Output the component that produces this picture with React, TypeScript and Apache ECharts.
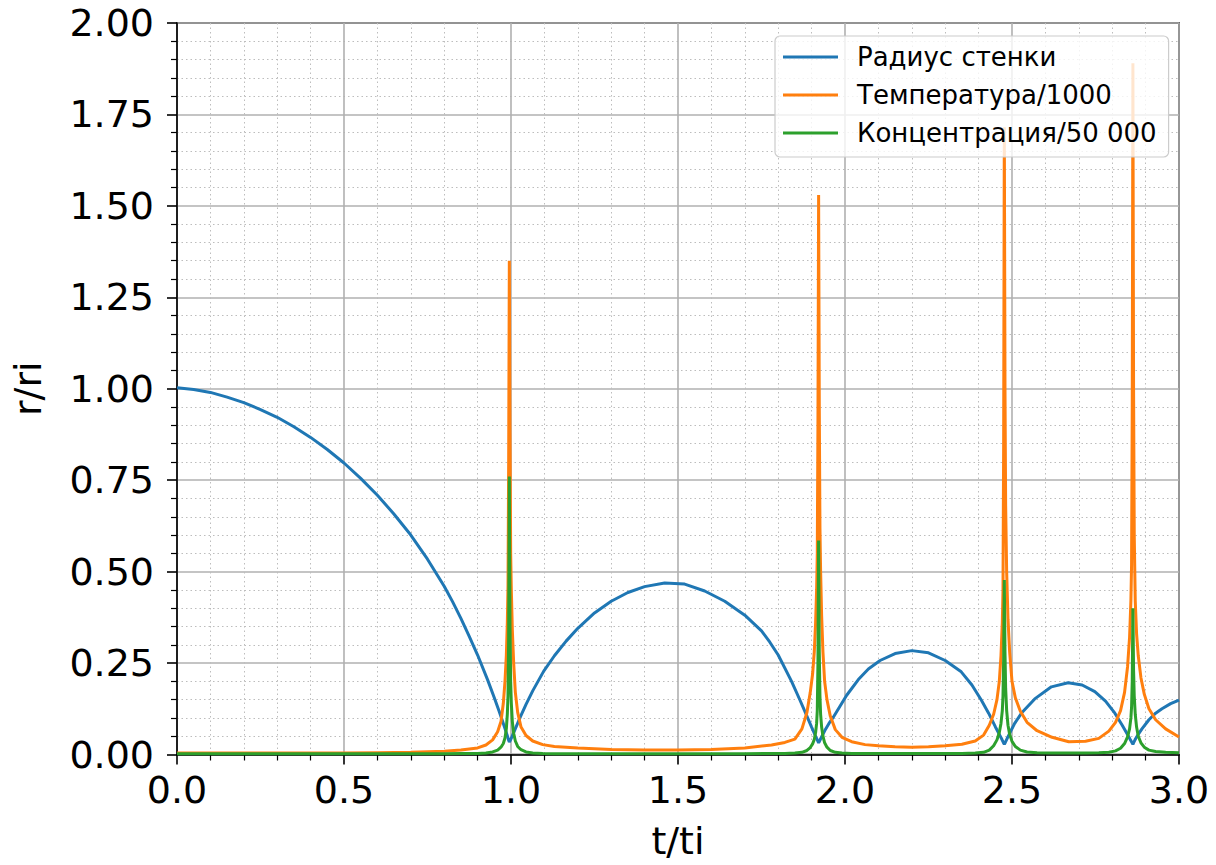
import React, { useEffect, useRef } from "react";
import * as echarts from "echarts";

// ---- Data ----
const seriesNames = ["Радиус стенки", "Температура/1000", "Концентрация/50 000"];
const seriesColors = ["#1f77b4", "#ff7f0e", "#2ca02c"];

// Wall radius r/ri
const tRadius = [
  0, 0.05, 0.1, 0.15, 0.2, 0.25, 0.3, 0.35, 0.4, 0.45, 0.5, 0.55, 0.6, 0.65, 0.7, 0.75, 0.8, 0.825, 0.85,
  0.875, 0.9, 0.93, 0.95, 0.965, 0.975, 0.983, 0.988, 0.991, 0.993, 0.995, 0.997, 0.999, 1.002, 1.008, 1.015,
  1.028, 1.045, 1.065, 1.098, 1.13, 1.165, 1.2, 1.25, 1.3, 1.35, 1.4, 1.46, 1.52, 1.58, 1.64, 1.7, 1.75,
  1.775, 1.8, 1.84, 1.865, 1.885, 1.9, 1.91, 1.915, 1.919, 1.921, 1.923, 1.926, 1.932, 1.94, 1.952, 1.965,
  1.985, 2.005, 2.04, 2.07, 2.105, 2.15, 2.2, 2.25, 2.3, 2.348, 2.38, 2.408, 2.43, 2.45, 2.462, 2.47, 2.474,
  2.477, 2.48, 2.485, 2.493, 2.508, 2.53, 2.568, 2.618, 2.668, 2.71, 2.748, 2.78, 2.808, 2.83, 2.845, 2.854,
  2.859, 2.862, 2.865, 2.87, 2.878, 2.889, 2.91, 2.93, 2.949, 2.975, 3.0,
];
const radius = [
  1.003, 0.998, 0.99, 0.977, 0.962, 0.943, 0.922, 0.896, 0.867, 0.834, 0.797, 0.755, 0.709, 0.657, 0.6,
  0.534, 0.46, 0.418, 0.372, 0.323, 0.272, 0.204, 0.155, 0.117, 0.09, 0.068, 0.054, 0.045, 0.039, 0.034,
  0.037, 0.041, 0.047, 0.06, 0.075, 0.103, 0.137, 0.174, 0.228, 0.27, 0.31, 0.345, 0.387, 0.419, 0.443,
  0.459, 0.469, 0.466, 0.447, 0.419, 0.381, 0.338, 0.307, 0.272, 0.2, 0.149, 0.107, 0.075, 0.054, 0.044,
  0.036, 0.032, 0.035, 0.041, 0.052, 0.066, 0.085, 0.102, 0.132, 0.162, 0.205, 0.234, 0.257, 0.276, 0.284,
  0.278, 0.257, 0.226, 0.19, 0.149, 0.113, 0.076, 0.055, 0.041, 0.033, 0.028, 0.033, 0.043, 0.058, 0.085,
  0.115, 0.152, 0.185, 0.196, 0.19, 0.172, 0.146, 0.113, 0.08, 0.056, 0.041, 0.033, 0.028, 0.034, 0.043,
  0.055, 0.07, 0.095, 0.113, 0.125, 0.139, 0.149,
];

// Temperature/1000 and concentration/50 000
const tSpikes = [
  0, 0.1, 0.2, 0.3, 0.4, 0.5, 0.6, 0.7, 0.8, 0.85, 0.9, 0.925, 0.945, 0.96, 0.97, 0.977, 0.982, 0.986, 0.989,
  0.991, 0.993, 0.995, 0.997, 0.999, 1.001, 1.004, 1.008, 1.013, 1.02, 1.03, 1.045, 1.065, 1.095, 1.13, 1.2,
  1.3, 1.4, 1.46, 1.5, 1.6, 1.7, 1.78, 1.82, 1.85, 1.871, 1.886, 1.896, 1.903, 1.908, 1.912, 1.915, 1.917,
  1.919, 1.921, 1.923, 1.925, 1.927, 1.93, 1.934, 1.939, 1.946, 1.956, 1.971, 1.991, 2.02, 2.06, 2.1, 2.15,
  2.2, 2.25, 2.3, 2.35, 2.39, 2.415, 2.432, 2.445, 2.455, 2.462, 2.467, 2.471, 2.473, 2.475, 2.477, 2.479,
  2.481, 2.484, 2.488, 2.493, 2.5, 2.51, 2.525, 2.545, 2.575, 2.62, 2.67, 2.72, 2.76, 2.79, 2.81, 2.825,
  2.837, 2.846, 2.852, 2.856, 2.858, 2.86, 2.862, 2.864, 2.866, 2.869, 2.873, 2.878, 2.886, 2.896, 2.91,
  2.93, 2.96, 3.0,
];
const temperature = [
  0.004, 0.004, 0.004, 0.004, 0.004, 0.004, 0.005, 0.006, 0.009, 0.012, 0.018, 0.026, 0.04, 0.062, 0.09,
  0.14, 0.2, 0.27, 0.36, 0.46, 0.8, 1.35, 0.88, 0.55, 0.45, 0.34, 0.25, 0.17, 0.115, 0.075, 0.052, 0.037,
  0.027, 0.022, 0.018, 0.014, 0.012, 0.012, 0.012, 0.014, 0.018, 0.026, 0.033, 0.042, 0.07, 0.115, 0.17,
  0.22, 0.28, 0.36, 0.45, 0.55, 0.9, 1.53, 0.95, 0.62, 0.5, 0.38, 0.28, 0.2, 0.15, 0.105, 0.068, 0.047,
  0.035, 0.027, 0.024, 0.021, 0.02, 0.021, 0.024, 0.028, 0.037, 0.053, 0.08, 0.11, 0.15, 0.2, 0.27, 0.36,
  0.45, 0.85, 1.715, 1.0, 0.68, 0.5, 0.37, 0.28, 0.2, 0.155, 0.118, 0.088, 0.065, 0.047, 0.035, 0.036,
  0.044, 0.064, 0.088, 0.12, 0.17, 0.24, 0.32, 0.42, 0.52, 0.95, 1.89, 1.0, 0.6, 0.42, 0.33, 0.27, 0.21,
  0.165, 0.125, 0.095, 0.07, 0.048,
];
const concentration = [
  0.002, 0.002, 0.002, 0.002, 0.002, 0.002, 0.002, 0.002, 0.002, 0.003, 0.003, 0.004, 0.007, 0.012, 0.02,
  0.03, 0.045, 0.07, 0.11, 0.16, 0.32, 0.76, 0.35, 0.2, 0.14, 0.09, 0.058, 0.037, 0.022, 0.013, 0.007,
  0.004, 0.003, 0.002, 0.002, 0.002, 0.002, 0.002, 0.002, 0.002, 0.002, 0.003, 0.003, 0.004, 0.006, 0.011,
  0.019, 0.029, 0.041, 0.06, 0.085, 0.12, 0.25, 0.585, 0.28, 0.16, 0.11, 0.075, 0.05, 0.032, 0.02, 0.011,
  0.006, 0.004, 0.003, 0.003, 0.003, 0.003, 0.003, 0.003, 0.003, 0.003, 0.004, 0.006, 0.012, 0.024, 0.04,
  0.06, 0.085, 0.12, 0.16, 0.26, 0.477, 0.28, 0.18, 0.12, 0.08, 0.055, 0.036, 0.022, 0.012, 0.007, 0.005,
  0.004, 0.004, 0.004, 0.005, 0.006, 0.01, 0.017, 0.03, 0.048, 0.07, 0.1, 0.13, 0.2, 0.4, 0.23, 0.16, 0.11,
  0.075, 0.05, 0.032, 0.02, 0.012, 0.008, 0.006, 0.005,
];

const FONT = "DejaVu Sans";

export default function App() {
  const ref = useRef<HTMLDivElement>(null);

  useEffect(() => {
    if (!ref.current) return;
    const chart = echarts.init(ref.current, null, { renderer: "svg" });

    const axisCommon = {
      axisLine: { show: true, lineStyle: { color: "#000", width: 1.6 } },
      axisTick: { show: true, length: 10, lineStyle: { color: "#000", width: 1.6 } },
      minorTick: { show: true, splitNumber: 5, length: 6, lineStyle: { color: "#000", width: 1.2 } },
      splitLine: { show: true, lineStyle: { color: "#b0b0b0", width: 1.6 } },
      minorSplitLine: { show: true, lineStyle: { color: "#bdbdbd", width: 1, type: [1.5, 3] } },
    };

    const lineSeries = (name: string, color: string, ts: number[], vs: number[]) => ({
      name,
      type: "line",
      data: ts.map((t, i) => [t, vs[i]]),
      showSymbol: false,
      symbol: "none",
      color,
      lineStyle: { color, width: 3 },
      clip: true,
    });

    chart.setOption({
      animation: false,
      textStyle: { fontFamily: FONT },
      grid: {
        left: 177,
        right: 37,
        top: 23,
        bottom: 110.5,
        show: true,
        borderColor: "#000",
        borderWidth: 1.6,
        containLabel: false,
        outerBoundsMode: "none",
      },
      legend: {
        orient: "vertical",
        left: 775,
        top: 36,
        backgroundColor: "rgba(255,255,255,0.8)",
        borderColor: "#cccccc",
        borderWidth: 1.2,
        borderRadius: 5,
        padding: [7, 12, 10, 8],
        itemWidth: 55,
        itemHeight: 3,
        itemGap: 10,
        icon: "rect",
        textStyle: { fontSize: 26, color: "#000", fontFamily: FONT, padding: [0, 0, 0, 14], lineHeight: 28 },
        data: seriesNames,
      },
      xAxis: {
        type: "value",
        min: 0,
        max: 3,
        interval: 0.5,
        name: "t/ti",
        nameLocation: "middle",
        nameGap: 69,
        nameTextStyle: { fontSize: 38, color: "#000", fontFamily: FONT, lineHeight: 34 },
        ...axisCommon,
        axisLabel: {
          fontSize: 38,
          color: "#000",
          fontFamily: FONT,
          margin: 16,
          formatter: (v: number) => v.toFixed(1),
        },
      },
      yAxis: {
        type: "value",
        min: 0,
        max: 2,
        interval: 0.25,
        name: "r/ri",
        nameLocation: "middle",
        nameRotate: 90,
        nameGap: 130,
        nameTextStyle: { fontSize: 38, color: "#000", fontFamily: FONT },
        ...axisCommon,
        axisLabel: {
          fontSize: 38,
          color: "#000",
          fontFamily: FONT,
          margin: 23,
          formatter: (v: number) => v.toFixed(2),
        },
      },
      series: [
        lineSeries(seriesNames[0], seriesColors[0], tRadius, radius),
        lineSeries(seriesNames[1], seriesColors[1], tSpikes, temperature),
        lineSeries(seriesNames[2], seriesColors[2], tSpikes, concentration),
      ],
    });

    return () => chart.dispose();
  }, []);

  return (
    <div
      ref={ref}
      style={{ position: "fixed", left: 0, top: 0, width: 1216, height: 865, background: "#fff" }}
    />
  );
}
